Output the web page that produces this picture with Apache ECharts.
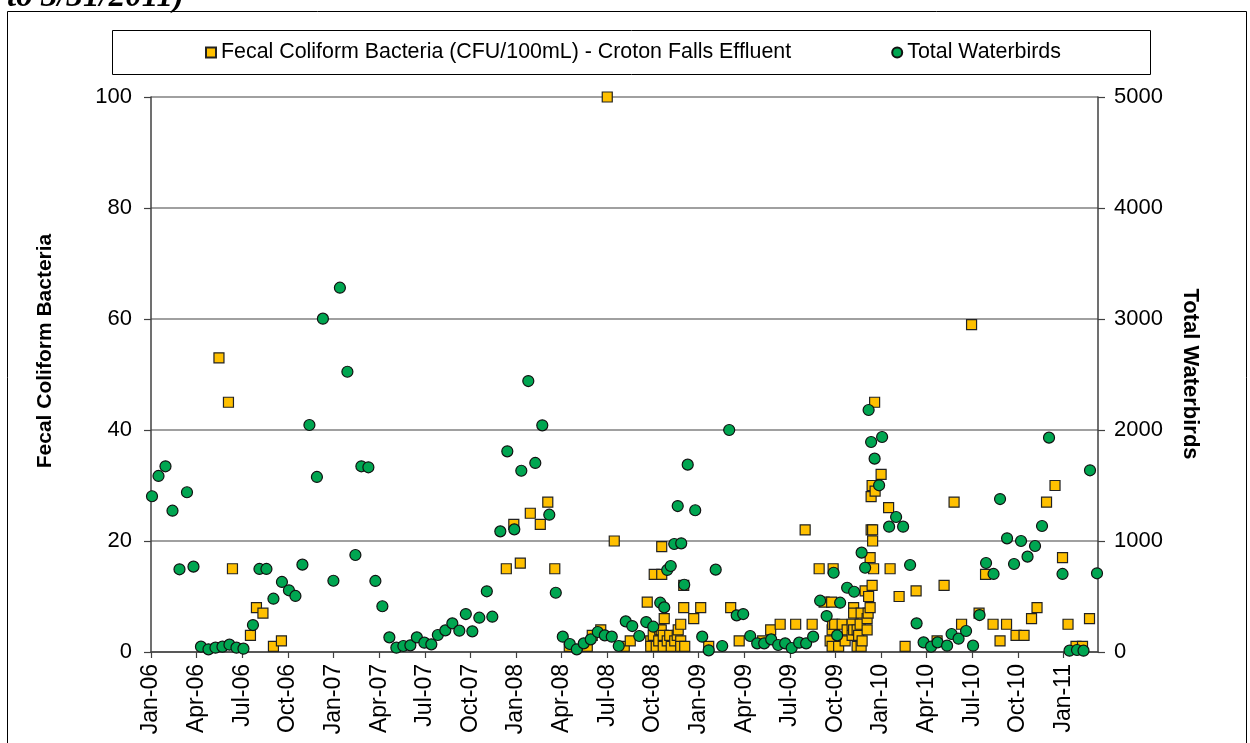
<!DOCTYPE html>
<html>
<head>
<meta charset="utf-8">
<script src="https://cdn.jsdelivr.net/npm/echarts@6/dist/echarts.min.js"></script>
<style>
html,body{margin:0;padding:0;background:#fff;}
#chart{width:1250px;height:743px;}
</style>
</head>
<body>
<div id="chart"></div>
<script>
// x values are days counted from 1 Jan 2006
const xTickLabels = ['Jan-06','Apr-06','Jul-06','Oct-06','Jan-07','Apr-07','Jul-07','Oct-07','Jan-08','Apr-08','Jul-08','Oct-08','Jan-09','Apr-09','Jul-09','Oct-09','Jan-10','Apr-10','Jul-10','Oct-10','Jan-11'];

const fecalName = 'Fecal Coliform Bacteria (CFU/100mL) - Croton Falls Effluent';
const birdName = 'Total Waterbirds';

const fecalDays = [136,155,163,199,211,224,245,261,711,726,739,759,779,794,808,837,873,883,900,913,927,947,959,993,1000,1000,1005,1007,1011,1016,1018,1021,1022,1022,1025,1025,1027,1033,1038,1041,1048,1053,1055,1060,1060,1060,1066,1066,1068,1086,1100,1116,1160,1177,1224,1240,1259,1290,1309,1323,1337,1347,1359,1362,1363,1363,1364,1365,1368,1376,1383,1389,1393,1403,1403,1406,1406,1406,1413,1413,1416,1419,1421,1421,1423,1429,1433,1433,1435,1436,1439,1439,1441,1441,1443,1443,1444,1444,1446,1448,1449,1461,1476,1479,1497,1509,1531,1573,1587,1607,1622,1642,1657,1670,1685,1699,1712,1731,1747,1762,1773,1792,1809,1824,1835,1851,1864,1878];
const fecalValues = [53,45,15,3,8,7,1,2,15,23,16,25,23,27,15,1,1,3,4,100,20,1,2,9,2,1,3,14,1,2,4,4,14,19,3,1,6,2,3,1,2,3,4,2,1,5,8,12,1,6,8,1,8,2,2,4,5,5,22,5,15,9,2,9,4,1,5,15,5,1,5,2,4,5,3,8,7,4,4,1,3,5,7,1,2,11,6,4,7,10,8,17,22,28,12,30,20,22,15,45,29,32,26,15,10,1,11,2,12,27,5,59,7,14,5,2,5,3,3,6,8,27,30,17,5,1,1,6];

const birdDays = [2,15,29,43,57,72,85,100,115,129,143,157,171,185,204,217,231,245,262,276,289,303,317,332,344,365,378,393,409,421,435,449,463,477,491,505,519,532,547,561,574,589,603,617,630,643,657,672,683,699,713,727,741,755,769,783,797,810,824,838,852,866,880,894,908,922,936,950,963,977,991,1005,1019,1027,1033,1040,1047,1054,1061,1067,1074,1089,1103,1116,1130,1143,1157,1172,1185,1199,1213,1227,1241,1255,1269,1282,1297,1311,1325,1339,1352,1366,1373,1379,1393,1407,1422,1429,1436,1441,1448,1457,1463,1477,1491,1505,1519,1532,1546,1561,1574,1593,1602,1616,1631,1645,1658,1671,1686,1699,1713,1727,1741,1754,1769,1783,1797,1824,1838,1853,1866,1879,1893];
const birdCounts = [1403,1586,1673,1273,745,1439,769,48,24,39,48,66,39,30,243,748,748,480,631,556,505,787,2045,1577,3003,642,3282,2525,874,1673,1664,640,412,132,39,54,60,132,84,69,153,195,258,192,342,186,309,547,318,1087,1808,1105,1633,2441,1703,2042,1237,534,138,72,24,78,114,180,150,138,54,276,234,144,270,228,444,402,739,775,973,1315,979,606,1688,1277,138,15,742,54,2000,330,342,144,78,78,114,63,78,36,84,78,138,462,324,714,150,444,579,543,895,759,2180,1892,1742,1502,1937,1129,1216,1129,784,258,87,48,87,57,162,120,189,57,333,802,703,1378,1024,793,1000,859,955,1135,1931,703,12,18,12,1637,709];

const QUARTER = 365.25 / 4;
const X_MAX = 1895;
const FONT = '"Liberation Sans", Arial, sans-serif';
const AXIS_COLOR = '#404040';

const fecalData = fecalDays.map((d, i) => [d, fecalValues[i]]);
const birdData = birdDays.map((d, i) => [d, birdCounts[i]]);

const chart = echarts.init(document.getElementById('chart'), null, {renderer: 'canvas'});

const option = {
  animation: false,
  backgroundColor: '#ffffff',
  textStyle: {fontFamily: FONT},
  grid: {left: 151, right: 152, top: 97, bottom: 91, containLabel: false, outerBoundsMode: 'none'},
  legend: {
    left: 205, top: 42, padding: 0,
    itemWidth: 10, itemHeight: 10, itemGap: 100,
    textStyle: {fontSize: 21.4, color: '#000', fontFamily: FONT},
    data: [fecalName, birdName]
  },
  xAxis: {
    type: 'value', min: 0, max: X_MAX, interval: QUARTER,
    splitLine: {show: false},
    axisLine: {lineStyle: {color: AXIS_COLOR, width: 1.5}},
    axisTick: {length: 6, lineStyle: {color: AXIS_COLOR, width: 1.2}},
    axisLabel: {
      rotate: 90, margin: 12, fontSize: 23, color: '#000', fontFamily: FONT,
      showMaxLabel: false,
      formatter: function (v) {
        const i = Math.round(v / QUARTER);
        if (Math.abs(v - i * QUARTER) > 0.01) return '';
        return xTickLabels[i] || '';
      }
    }
  },
  yAxis: [
    {
      type: 'value', min: 0, max: 100, interval: 20, position: 'left',
      axisLine: {show: true, lineStyle: {color: AXIS_COLOR, width: 1.5}},
      axisTick: {show: true, length: 7, lineStyle: {color: AXIS_COLOR, width: 1.2}},
      axisLabel: {fontSize: 22, margin: 19, color: '#000', fontFamily: FONT,
        formatter: function (v) { return String(v); }},
      splitLine: {show: true, lineStyle: {color: '#808080', width: 1.5}}
    },
    {
      type: 'value', min: 0, max: 5000, interval: 1000, position: 'right',
      axisLine: {show: true, lineStyle: {color: AXIS_COLOR, width: 1.5}},
      axisTick: {show: true, length: 7, lineStyle: {color: AXIS_COLOR, width: 1.2}},
      axisLabel: {fontSize: 22, margin: 16, color: '#000', fontFamily: FONT,
        formatter: function (v) { return String(v); }},
      splitLine: {show: false}
    }
  ],
  series: [
    {
      name: fecalName, type: 'scatter', yAxisIndex: 0,
      symbol: 'rect', symbolSize: 10,
      itemStyle: {color: '#FFC000', borderColor: '#222', borderWidth: 1.2, opacity: 1},
      data: fecalData
    },
    {
      name: birdName, type: 'scatter', yAxisIndex: 1,
      symbol: 'circle', symbolSize: 11,
      itemStyle: {color: '#00A651', borderColor: '#111', borderWidth: 1.2, opacity: 1},
      data: birdData
    }
  ],
  graphic: [
    {type: 'rect', silent: true, z: -1, shape: {x: 7.5, y: 11.5, width: 1239, height: 760},
     style: {fill: null, stroke: '#000', lineWidth: 1}},
    {type: 'rect', silent: true, z: -1, shape: {x: 112.5, y: 30.5, width: 1038, height: 44},
     style: {fill: null, stroke: '#000', lineWidth: 1}},
    {type: 'text', silent: true, x: 7, y: -3,
     style: {text: 'to 3/31/2011)', font: 'italic bold 33px "Liberation Serif", "Times New Roman", serif', fill: '#000', align: 'left', verticalAlign: 'middle'}},
    {type: 'text', silent: true, x: 45, y: 351, rotation: Math.PI / 2,
     style: {text: 'Fecal Coliform Bacteria', font: 'bold 21px "Liberation Sans", Arial, sans-serif', fill: '#000', align: 'center', verticalAlign: 'middle'}},
    {type: 'text', silent: true, x: 1190, y: 374, rotation: -Math.PI / 2,
     style: {text: 'Total Waterbirds', font: 'bold 22px "Liberation Sans", Arial, sans-serif', fill: '#000', align: 'center', verticalAlign: 'middle'}}
  ]
};

chart.setOption(option);
</script>
</body>
</html>
